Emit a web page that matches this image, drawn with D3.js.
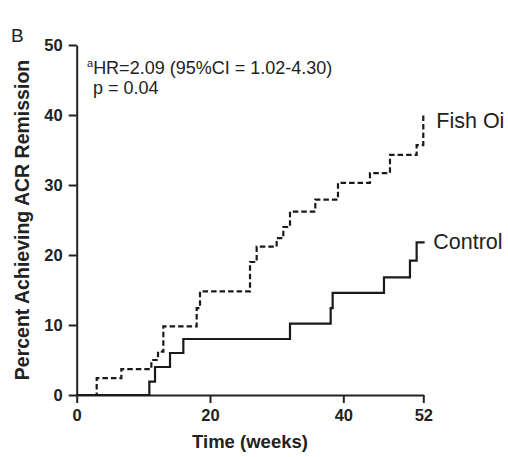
<!DOCTYPE html>
<html>
<head>
<meta charset="utf-8">
<script src="https://cdn.jsdelivr.net/npm/d3@7"></script>
<style>
  body { margin: 0; background: #fff; }
  svg text { font-family: "Liberation Sans", Arial, Helvetica, sans-serif; fill: #222; }
  .axis path, .axis line { stroke: #222; stroke-width: 2px; }
</style>
</head>
<body>
<svg id="chart" width="508" height="457"></svg>
<script>
// step data (weeks, cumulative percent)
const fishWeeks = [0, 3, 6.7, 11.2, 12.2, 13, 18, 18.5, 26, 27, 30, 31, 32, 35.8, 39.2, 44, 47, 51, 52];
const fishPct = [0, 2.4, 3.7, 5.0, 6.2, 9.8, 12.4, 14.8, 19.0, 21.2, 22.4, 24.0, 26.2, 27.9, 30.3, 31.7, 34.3, 35.7, 40.0];
const controlWeeks = [0, 10.9, 11.75, 14, 16, 32, 38.1, 38.4, 46.1, 50, 51, 52.2];
const controlPct = [0, 1.9, 4.0, 6.0, 8.0, 10.2, 12.4, 14.6, 16.8, 19.2, 21.8, 21.8];
const xTicks = [0, 20, 40, 52];
const yTicks = [0, 10, 20, 30, 40, 50];
const seriesNames = ["Fish Oi", "Control"];

const svg = d3.select("#chart");
const margin = { top: 45, right: 84.7, bottom: 62, left: 76.7 };
const W = 508, H = 457;

const x = d3.scaleLinear().domain([0, 52]).range([margin.left, W - margin.right]);
const y = d3.scaleLinear().domain([0, 50]).range([H - margin.bottom, margin.top]);

// axes
const xAxis = svg.append("g")
  .attr("class", "axis")
  .attr("transform", `translate(0,${y(0)})`)
  .call(d3.axisBottom(x).tickValues(xTicks).tickSize(8).tickSizeOuter(0).tickPadding(6).tickFormat(d3.format("d")));
xAxis.selectAll("text").style("font-size", "16.5px").style("font-weight", "bold");

const yAxis = svg.append("g")
  .attr("class", "axis")
  .attr("transform", `translate(${x(0)},0)`)
  .call(d3.axisLeft(y).tickValues(yTicks).tickSize(8).tickSizeOuter(0).tickPadding(6));
yAxis.selectAll("text").style("font-size", "16.5px").style("font-weight", "bold");

// step lines
const line = d3.line().curve(d3.curveStepAfter).x(d => x(d[0])).y(d => y(d[1]));
const fish = fishWeeks.map((w, i) => [w, fishPct[i]]);
const control = controlWeeks.map((w, i) => [w, controlPct[i]]);

svg.append("path")
  .datum(control)
  .attr("d", line)
  .attr("fill", "none")
  .attr("stroke", "#1a1a1a")
  .attr("stroke-width", 2.2);

svg.append("path")
  .datum(fish)
  .attr("d", line)
  .attr("fill", "none")
  .attr("stroke", "#1a1a1a")
  .attr("stroke-width", 2.2)
  .attr("stroke-dasharray", "5.5,3");

// series labels
svg.append("text")
  .attr("x", x(52) + 13).attr("y", y(fishPct[fishPct.length - 1]) + 13)
  .style("font-size", "21.5px")
  .text(seriesNames[0]);
svg.append("text")
  .attr("x", x(52) + 10).attr("y", y(controlPct[controlPct.length - 1]) + 7)
  .style("font-size", "21.5px")
  .text(seriesNames[1]);

// annotation
const ann = svg.append("text").attr("x", 87).attr("y", 73.5).style("font-size", "18px");
ann.append("tspan").attr("dy", "-7").style("font-size", "11px").text("a");
ann.append("tspan").attr("dy", "7").text("HR=2.09 (95%CI = 1.02-4.30)");
svg.append("text").attr("x", 93).attr("y", 94).style("font-size", "18px").text("p = 0.04");

// axis titles
svg.append("text")
  .attr("x", (x(0) + x(52)) / 2).attr("y", 448)
  .attr("text-anchor", "middle")
  .style("font-size", "18.5px").style("font-weight", "bold")
  .text("Time (weeks)");

svg.append("text")
  .attr("transform", `translate(29,${(y(0) + y(50)) / 2}) rotate(-90)`)
  .attr("text-anchor", "middle")
  .style("font-size", "19.5px").style("font-weight", "bold")
  .text("Percent Achieving ACR Remission");

// panel letter
svg.append("text").attr("x", 11).attr("y", 42).style("font-size", "19px").text("B");
</script>
</body>
</html>
